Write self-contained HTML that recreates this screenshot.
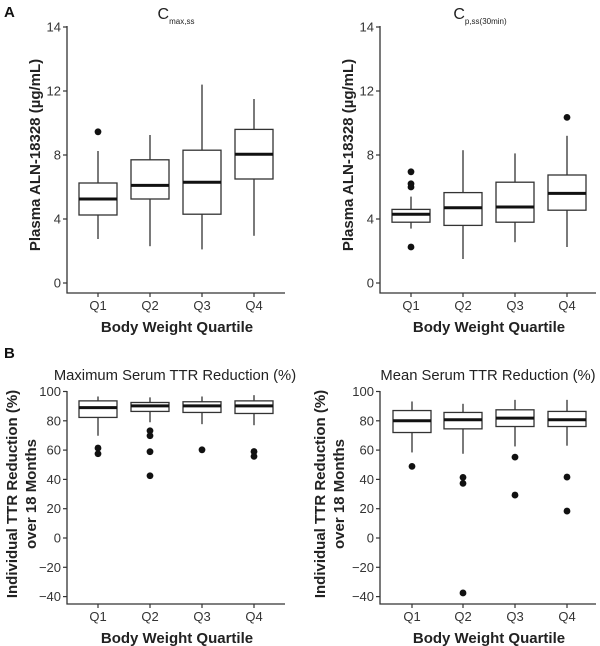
<!DOCTYPE html>
<html><head><meta charset="utf-8">
<style>
body{margin:0;background:#fff;}
svg{display:block;font-family:"Liberation Sans",sans-serif;}
</style></head>
<body>
<svg id="fig" width="600" height="646" viewBox="0 0 600 646">
<text x="4" y="17" font-size="15" font-weight="bold" fill="#111">A</text>
<text x="4" y="358" font-size="15" font-weight="bold" fill="#111">B</text>
</svg>
<script>
// ---------- data ----------
const categories = ["Q1","Q2","Q3","Q4"];
// Panel A (left) Cmax,ss : [lowWhisker, q1, median, q3, highWhisker]
const cmaxStats = [[2.75,4.25,5.25,6.25,8.25],[2.3,5.25,6.1,7.7,9.25],[2.1,4.3,6.3,8.3,12.4],[2.95,6.5,8.05,9.6,11.5]];
const cmaxOutliers = [[9.45],[],[],[]];
// Panel A (right) Cp,ss(30min)
const cpStats = [[3.4,3.8,4.3,4.6,5.4],[1.5,3.6,4.7,5.65,8.3],[2.55,3.8,4.75,6.3,8.1],[2.25,4.55,5.6,6.75,9.2]];
const cpOutliers = [[6.95,6.2,6.0,2.25],[],[],[10.35]];
// Panel B (left) Maximum Serum TTR reduction
const maxTtrStats = [[69.8,82.3,89,93.6,96.6],[79,86.4,90.2,92.5,96],[77.7,85.7,90.2,93,96.6],[77,85,90.2,93.6,97.5]];
const maxTtrOutliers = [[61.4,57.5],[73.2,69.8,58.9,42.5],[60.2],[59,55.7]];
// Panel B (right) Mean Serum TTR reduction
const meanTtrStats = [[58.4,72,80,87,93.2],[57.5,74.5,80.7,85.7,91.6],[62.5,76.1,81.8,87.5,94.3],[63,76.1,80.7,86.4,94.3]];
const meanTtrOutliers = [[48.9],[41.4,37.3,-37.5],[55.2,29.3],[41.6,18.4]];
// ticks
const concTicks = [0,4,8,12,16];
const concTickLabels = ["0","4","8","12","14"];
const ttrTicks = [-40,-20,0,20,40,60,80,100];
const ttrTickLabels = ["\u221240","\u221220","0","20","40","60","80","100"];

const NS="http://www.w3.org/2000/svg";
const svg=document.getElementById('fig');
function mk(tag,attrs,parent){const e=document.createElementNS(NS,tag);for(const k in attrs)e.setAttribute(k,attrs[k]);(parent||svg).appendChild(e);return e;}

function panel(cfg){
  const g=mk('g',{});
  
  
  const y=v=>cfg.y0-(v-cfg.vmin)*cfg.k;
  const x=i=>cfg.xc[i];
  const ax=mk('path',{d:`M${cfg.ax} ${cfg.top} V${cfg.axY} H${cfg.right}`,stroke:'#333','stroke-width':1.3,fill:'none'},g);
  
  
  cfg.ticks.forEach((t,i)=>{
    mk('line',{x1:cfg.ax-4,x2:cfg.ax,y1:y(t),y2:y(t),stroke:'#333','stroke-width':1.2},g);
    const tl=mk('text',{x:cfg.ax-6,y:y(t)+4.5,'font-size':13,'text-anchor':'end',fill:'#333'},g);
    tl.textContent=cfg.tickLabels[i];
    
    
  });
  categories.forEach((c,i)=>{
    mk('line',{x1:x(i),x2:x(i),y1:cfg.axY,y2:cfg.axY+4,stroke:'#333','stroke-width':1.2},g);
    const tl=mk('text',{x:x(i),y:cfg.axY+17,'font-size':13,'text-anchor':'middle',fill:'#333'},g);
    tl.textContent=c;
    
    
    const s=cfg.stats[i], hw=19;
    const bg=mk('g',{},g);
    
    
    mk('line',{x1:x(i),x2:x(i),y1:y(s[4]),y2:y(s[3]),stroke:'#333','stroke-width':1.3},bg);
    mk('line',{x1:x(i),x2:x(i),y1:y(s[1]),y2:y(s[0]),stroke:'#333','stroke-width':1.3},bg);
    mk('rect',{x:x(i)-hw,y:y(s[3]),width:2*hw,height:y(s[1])-y(s[3]),fill:'#fff',stroke:'#333','stroke-width':1.3},bg);
    mk('line',{x1:x(i)-hw,x2:x(i)+hw,y1:y(s[2]),y2:y(s[2]),stroke:'#111','stroke-width':3},bg);
    cfg.outliers[i].forEach(v=>{
      const p=mk('circle',{cx:x(i),cy:y(v),r:3.4,fill:'#111'},bg);
      
      
    });
  });
  const xt=mk('text',{x:(cfg.ax+cfg.right)/2+1,y:cfg.axY+39,'font-size':15,'font-weight':'bold','text-anchor':'middle',fill:'#222'},g);
  xt.textContent='Body Weight Quartile';
  
  
  cfg.ytitle.forEach((line,j)=>{
    const yt=mk('text',{transform:`translate(${cfg.ytx[j]},${cfg.yty}) rotate(-90)`,'font-size':15,'font-weight':'bold','text-anchor':'middle',fill:'#222'},g);
    yt.textContent=line;
    
    
  });
  const tt=mk('text',{x:cfg.titleX,y:cfg.titleY,'font-size':cfg.titleSize,'text-anchor':'middle',fill:'#222'},g);
  tt.innerHTML=cfg.title;
  
  
}

panel({name:'cmax-panel',ax:67,axY:293,right:285,top:26,y0:283,vmin:0,k:16,xc:[98,150,202,254],
  ticks:concTicks,tickLabels:concTickLabels,stats:cmaxStats,outliers:cmaxOutliers,
  ytitle:['Plasma ALN-18328 (\u00b5g/mL)'],ytx:[40],yty:155,
  title:'C<tspan font-size="8" dy="5">max,ss</tspan>',titleX:176,titleY:19,titleSize:16});
panel({name:'cp-panel',ax:380,axY:293,right:596,top:26,y0:283,vmin:0,k:16,xc:[411,463,515,567],
  ticks:concTicks,tickLabels:concTickLabels,stats:cpStats,outliers:cpOutliers,
  ytitle:['Plasma ALN-18328 (\u00b5g/mL)'],ytx:[353],yty:155,
  title:'C<tspan font-size="8" dy="5">p,ss(30min)</tspan>',titleX:480,titleY:19,titleSize:16});
panel({name:'max-ttr-panel',ax:67,axY:604,right:285,top:391,y0:538,vmin:0,k:1.465,xc:[98,150,202,254],
  ticks:ttrTicks,tickLabels:ttrTickLabels,stats:maxTtrStats,outliers:maxTtrOutliers,
  ytitle:['Individual TTR Reduction (%)','over 18 Months'],ytx:[17,36],yty:494,
  title:'Maximum Serum TTR Reduction (%)',titleX:175,titleY:380,titleSize:14.8});
panel({name:'mean-ttr-panel',ax:380,axY:604,right:596,top:391,y0:538,vmin:0,k:1.465,xc:[412,463,515,567],
  ticks:ttrTicks,tickLabels:ttrTickLabels,stats:meanTtrStats,outliers:meanTtrOutliers,
  ytitle:['Individual TTR Reduction (%)','over 18 Months'],ytx:[325,344],yty:494,
  title:'Mean Serum TTR Reduction (%)',titleX:488,titleY:380,titleSize:14.8});
</script>
</body></html>
